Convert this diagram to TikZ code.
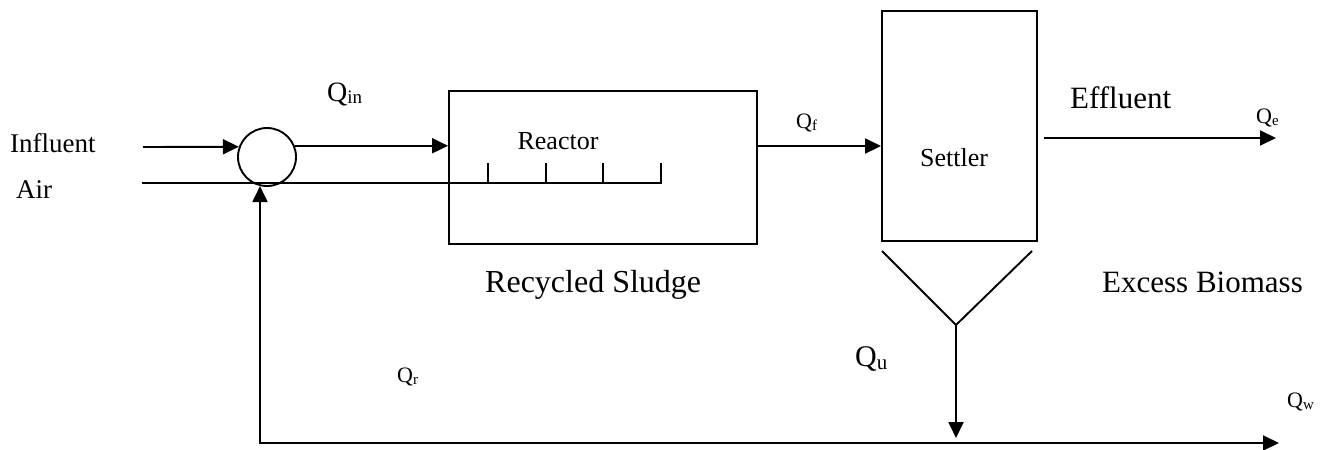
\documentclass[tikz,border=0pt]{standalone}
\usepackage{fontspec}
\setmainfont{Liberation Serif}
\usetikzlibrary{arrows.meta}
\newcommand\Qlab[3]{\fontsize{#1}{#1}\selectfont Q\raisebox{-0.1em}{\fontsize{#2}{#2}\selectfont #3}}
\newcommand\txt[1]{\fontsize{#1}{#1}\selectfont}
\begin{document}
\begin{tikzpicture}[x=1pt,y=-1pt,
  ln/.style={line width=1.9pt},
  arr/.style={ln,-{Triangle[length=16pt,width=15pt]}},
  dbl/.style={ln,{Triangle[length=16pt,width=15pt]}-{Triangle[length=16pt,width=15pt]}},
  box/.style={draw,ln,rectangle,inner sep=0pt},
  lbl/.style={inner sep=0pt,anchor=base west},
  clbl/.style={inner sep=0pt,anchor=base}]
\useasboundingbox (0,0) rectangle (1326,450);
% units
\node[draw,ln,circle,minimum size=58pt,inner sep=0pt] (mix) at (267,157) {};
\node[box,minimum width=308pt,minimum height=153pt] (reactor) at (603,167.5) {};
\node[box,minimum width=155pt,minimum height=230pt] (settler) at (959.5,126) {};
% hopper
\coordinate (hl) at (882,251);
\coordinate (hr) at (1032,251);
\coordinate (apex) at (956,325);
\draw[ln] (hl) -- (apex) -- (hr);
% influent
\coordinate (infs) at (143,147);
\draw[arr] (infs) -- (mix.160);
% Qin
\draw[arr] (mix.22) -- (mix.22 -| reactor.west);
% air line with diffuser ticks
\coordinate (airs) at (142,183);
\coordinate (aire) at (661,183);
\draw[ln] (airs) -- (aire) -- ++(0,-20);
\foreach \x in {488,546,603}{\draw[ln] (\x,183) -- (\x,163);}
% Qf
\coordinate (qfs) at (757,146);
\draw[arr] (qfs) -- (qfs -| settler.west);
% effluent
\coordinate (effs) at (1044,138);
\coordinate (effe) at (1276,138);
\draw[arr] (effs) -- (effe);
% underflow
\coordinate (uend) at (956,438);
\draw[arr] (apex) -- (uend);
% recycle & waste
\coordinate (corner) at (260,443);
\coordinate (wend) at (1279,443);
\draw[dbl] (wend) -- (corner) -- (corner |- mix.256);
% labels
\node[lbl] (linf) at (10,152) {\txt{27}Influent};
\node[lbl] (lair) at (16,198) {\txt{27}Air};
\node[lbl] (lqin) at (327,101) {\Qlab{28}{19}{in}};
\node[clbl] (lreac) at (558,149) {\txt{26}Reactor};
\node[lbl] (lqf) at (796,128) {\Qlab{22}{15}{f}};
\node[clbl] (lset) at (954,166) {\txt{26}Settler};
\node[lbl] (leff) at (1070,108) {\txt{31}Effluent};
\node[lbl] (lqe) at (1256,123) {\Qlab{22}{15}{e}};
\node[lbl] (lrs) at (485,292) {\txt{32}Recycled Sludge};
\node[lbl] (leb) at (1102,292) {\txt{31}Excess Biomass};
\node[lbl] (lqr) at (397,382) {\Qlab{22}{15}{r}};
\node[lbl] (lqu) at (855,366) {\Qlab{30}{21}{u}};
\node[lbl] (lqw) at (1287,407) {\Qlab{22}{15}{w}};
\end{tikzpicture}
\end{document}
